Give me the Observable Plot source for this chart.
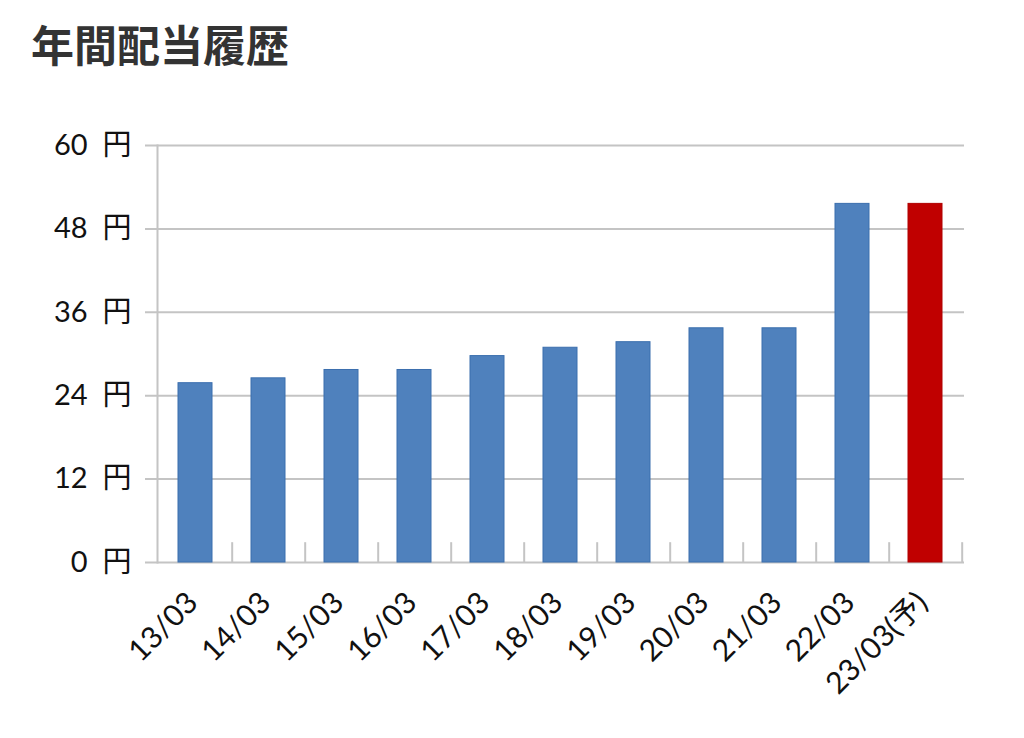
<!DOCTYPE html>
<html>
<head>
<meta charset="utf-8">
<script src="https://cdn.jsdelivr.net/npm/d3@7"></script>
<script src="https://cdn.jsdelivr.net/npm/@observablehq/plot@0.6"></script>
<style>
  html, body { margin: 0; padding: 0; background: #fff; }
  #title {
    box-sizing: border-box; height: 76px; padding: 22px 0 0 31px; margin: 0;
    font-family: "Noto Sans CJK JP", sans-serif; font-weight: bold; font-size: 43px;
    line-height: 43px; color: #333;
  }
  #chart svg { display: block; }
</style>
</head>
<body>
<div id="title">年間配当履歴</div>
<div id="chart"></div>
<script>
const periods = ["13/03","14/03","15/03","16/03","17/03","18/03","19/03","20/03","21/03","22/03","23/03(予)"];
const dividends = [25.8, 26.5, 27.7, 27.7, 29.7, 30.9, 31.7, 33.7, 33.7, 51.6, 51.6];
const forecast = [false, false, false, false, false, false, false, false, false, false, true];
const yTicks = [0, 12, 24, 36, 48, 60];

const data = periods.map((p, i) => ({period: p, value: dividends[i], forecast: forecast[i]}));

const W = 1024, ML = 157, MR = 60;
const step = (W - ML - MR) / periods.length;
const grid = "#c4c4c4";
const font = "Lato, 'Noto Sans CJK JP', sans-serif";

const chart = Plot.plot({
  width: W,
  height: 662,
  marginTop: 69,
  marginBottom: 176,
  marginLeft: ML,
  marginRight: MR,
  style: {fontFamily: font, fontSize: "30px", color: "#111", background: "#fff"},
  x: {domain: periods, paddingInner: 0.53, paddingOuter: 0.265, axis: null},
  y: {domain: [0, 60], axis: null},
  marks: [
    Plot.ruleY(yTicks, {y: d => d, stroke: grid, strokeWidth: 2, insetLeft: -12}),
    Plot.frame({anchor: "left", stroke: grid, strokeWidth: 2}),
    Plot.ruleX(periods, {x: d => d, dx: step / 2, y1: 0, y2: 2.85, stroke: grid, strokeWidth: 2}),
    Plot.barY(data, {
      x: "period", y: "value",
      fill: d => d.forecast ? "#c00000" : "#4f81bd",
      stroke: d => d.forecast ? "#b00000" : "#3b6fae",
      strokeWidth: 1
    }),
    Plot.text(yTicks, {
      y: d => d, text: d => d + "  円", frameAnchor: "left",
      textAnchor: "end", dx: -26, fill: "#111", fontSize: 29
    }),
    Plot.text(periods, {
      x: d => d, y: () => 0, text: d => d, rotate: -45,
      textAnchor: "end", lineAnchor: "bottom", dx: 4, dy: 42,
      fill: "#111", fontSize: 30
    })
  ]
});
document.getElementById("chart").appendChild(chart);
</script>
</body>
</html>
